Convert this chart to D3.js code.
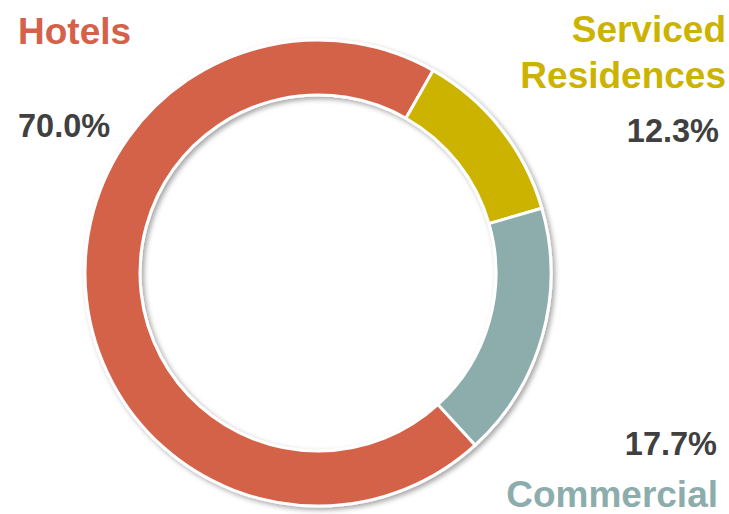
<!DOCTYPE html>
<html>
<head>
<meta charset="utf-8">
<script src="https://cdn.jsdelivr.net/npm/d3@7"></script>
<style>
  html, body { margin: 0; padding: 0; background: #fff; }
  svg { display: block; }
  text { font-family: "Liberation Sans", Arial, sans-serif; font-weight: bold; }
</style>
</head>
<body>
<svg id="chart" width="729" height="514"></svg>
<script>
// Data
const categories = ["Hotels", "Serviced Residences", "Commercial"];
const values = [70.0, 12.3, 17.7];
const valueLabels = ["70.0%", "12.3%", "17.7%"];
const colors = ["#D4624A", "#CCB300", "#8DADAD"];

const svg = d3.select("#chart");
const cx = 318, cy = 273, R = 233, r = 178;

const defs = svg.append("defs");
const f = defs.append("filter").attr("id", "shadow")
  .attr("x", "-10%").attr("y", "-10%").attr("width", "120%").attr("height", "120%");
f.append("feDropShadow").attr("dx", 2.5).attr("dy", 2.5).attr("stdDeviation", 2.5)
  .attr("flood-color", "#000").attr("flood-opacity", 0.35);

const data = categories.map((c, i) => ({ name: c, value: values[i], label: valueLabels[i], color: colors[i] }));

const pie = d3.pie().value(d => d.value).sort(null)
  .startAngle(137.6 * Math.PI / 180)
  .endAngle(137.6 * Math.PI / 180 + 2 * Math.PI);
const arc = d3.arc().innerRadius(r).outerRadius(R);

const g = svg.append("g").attr("transform", `translate(${cx},${cy})`);
g.append("g").attr("filter", "url(#shadow)")
  .selectAll("path").data(pie(data)).join("path")
  .attr("d", arc)
  .attr("fill", d => d.data.color)
  .attr("stroke", "#fff")
  .attr("stroke-width", 3)
  .attr("stroke-linejoin", "round");

// Labels
const pctColor = "#404040";
const nameSize = 37, pctSize = 32.5;
// Hotels
svg.append("text").attr("x", 18).attr("y", 44).attr("font-size", nameSize)
  .attr("fill", colors[0]).text("Hotels");
svg.append("text").attr("x", 18).attr("y", 137).attr("font-size", pctSize)
  .attr("fill", pctColor).text(valueLabels[0]);
// Serviced Residences
svg.append("text").attr("x", 726).attr("y", 42).attr("font-size", nameSize)
  .attr("text-anchor", "end").attr("fill", colors[1]).text("Serviced");
svg.append("text").attr("x", 726).attr("y", 88).attr("font-size", nameSize)
  .attr("text-anchor", "end").attr("fill", colors[1]).text("Residences");
svg.append("text").attr("x", 719).attr("y", 142).attr("font-size", pctSize)
  .attr("text-anchor", "end").attr("fill", pctColor).text(valueLabels[1]);
// Commercial
svg.append("text").attr("x", 717).attr("y", 455).attr("font-size", pctSize)
  .attr("text-anchor", "end").attr("fill", pctColor).text(valueLabels[2]);
svg.append("text").attr("x", 718).attr("y", 507).attr("font-size", nameSize)
  .attr("text-anchor", "end").attr("fill", colors[2]).text("Commercial");
</script>
</body>
</html>
